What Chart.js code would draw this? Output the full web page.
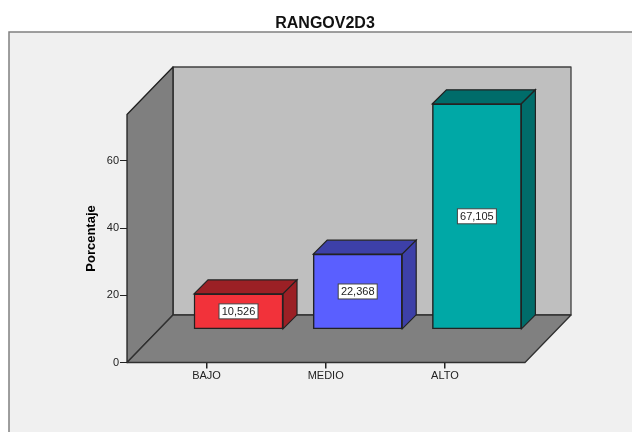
<!DOCTYPE html>
<html>
<head>
<meta charset="utf-8">
<title>RANGOV2D3</title>
<script src="https://cdn.jsdelivr.net/npm/chart.js@4"></script>
<style>
    body { margin: 0; background: #fff; }
    canvas { display: block; }
</style>
</head>
<body>
<canvas id="rangoChart" width="632" height="432"></canvas>
<script>
const categories = ['BAJO', 'MEDIO', 'ALTO'];
const porcentajes = [10.526, 22.368, 67.105];
const yTicks = [0, 20, 40, 60];

const frontColors = ['#f2323a', '#5a5fff', '#00a8a6'];
const darkColors = ['#9b2025', '#3d40a8', '#006c6a'];

// fake 3D depth, in pixels
const WALL_DX = 46, WALL_DY = 47.5;
const BAR_DX = 14, BAR_DY = 14;
const BAR_SHIFT_X = 32, BAR_SHIFT_Y = -33.2;

function poly(ctx, pts, fill, stroke, lw) {
    ctx.beginPath();
    pts.forEach((p, i) => i ? ctx.lineTo(p[0], p[1]) : ctx.moveTo(p[0], p[1]));
    ctx.closePath();
    ctx.fillStyle = fill;
    ctx.fill();
    ctx.strokeStyle = stroke;
    ctx.lineWidth = lw;
    ctx.stroke();
}

const fake3d = {
    id: 'fake3d',
    afterLayout(chart) {
        // title sits right of the page centre in the original
        chart.titleBlock.left = 0;
        chart.titleBlock.right = 650;
    },
    beforeDraw(chart) {
        const ctx = chart.ctx;
        const { left, right, top, bottom } = chart.chartArea;
        ctx.save();
        // outer frame, runs off the page on the right and bottom
        ctx.fillStyle = '#f0f0f0';
        ctx.fillRect(9, 32, 640, 420);
        ctx.strokeStyle = '#808080';
        ctx.lineWidth = 1.5;
        ctx.strokeRect(9, 32, 640, 420);
        // walls and floor
        ctx.lineJoin = 'round';
        poly(ctx, [[left + WALL_DX, top - WALL_DY], [right + WALL_DX, top - WALL_DY],
            [right + WALL_DX, bottom - WALL_DY], [left + WALL_DX, bottom - WALL_DY]], '#bfbfbf', '#404040', 1.3);
        poly(ctx, [[left, top], [left + WALL_DX, top - WALL_DY],
            [left + WALL_DX, bottom - WALL_DY], [left, bottom]], '#7f7f7f', '#202020', 1.3);
        poly(ctx, [[left, bottom], [left + WALL_DX, bottom - WALL_DY],
            [right + WALL_DX, bottom - WALL_DY], [right, bottom]], '#808080', '#303030', 1.3);
        ctx.restore();
    },
    beforeDatasetsDraw(chart) {
        const ctx = chart.ctx;
        ctx.save();
        ctx.translate(BAR_SHIFT_X, BAR_SHIFT_Y);
        chart.getDatasetMeta(0).data.forEach((bar, i) => {
            const l = bar.x - bar.width / 2, r = bar.x + bar.width / 2;
            poly(ctx, [[l, bar.y], [l + BAR_DX, bar.y - BAR_DY], [r + BAR_DX, bar.y - BAR_DY], [r, bar.y]],
                darkColors[i], '#222', 1.2);
            poly(ctx, [[r, bar.y], [r + BAR_DX, bar.y - BAR_DY], [r + BAR_DX, bar.base - BAR_DY], [r, bar.base]],
                darkColors[i], '#222', 1.2);
        });
    },
    afterDatasetsDraw(chart) {
        const ctx = chart.ctx;
        // value labels in white boxes on the bar fronts
        chart.getDatasetMeta(0).data.forEach((bar, i) => {
            const cx = bar.x, cy = (bar.y + bar.base) / 2;
            ctx.fillStyle = '#fff';
            ctx.fillRect(cx - 19.5, cy - 7.5, 39, 15);
            ctx.strokeStyle = '#444';
            ctx.lineWidth = 1;
            ctx.strokeRect(cx - 19.5, cy - 7.5, 39, 15);
            ctx.fillStyle = '#222';
            ctx.font = '11px "Liberation Sans"';
            ctx.textAlign = 'center';
            ctx.textBaseline = 'middle';
            ctx.fillText(porcentajes[i].toFixed(3).replace('.', ','), cx, cy + 0.5);
        });
        ctx.restore();
    }
};

document.addEventListener('DOMContentLoaded', function() {
    const ctx = document.getElementById('rangoChart').getContext('2d');
    new Chart(ctx, {
        type: 'bar',
        plugins: [fake3d],
        data: {
            datasets: [{
                data: porcentajes.map((v, i) => ({ x: i, y: v })),
                backgroundColor: frontColors,
                borderColor: '#222',
                borderWidth: 1.5,
                borderSkipped: false,
                barThickness: 89
            }]
        },
        options: {
            responsive: false,
            animation: false,
            devicePixelRatio: 1,
            layout: { padding: { right: 107 } },
            plugins: {
                legend: { display: false },
                tooltip: { enabled: false },
                title: {
                    display: true,
                    text: 'RANGOV2D3',
                    color: '#111',
                    font: { family: '"Liberation Sans"', size: 16, weight: 'bold' },
                    padding: { top: 14, bottom: 81.3 }
                }
            },
            scales: {
                x: {
                    type: 'linear',
                    min: -0.667,
                    max: 2.672,
                    offset: false,
                    bounds: 'data',
                    afterBuildTicks: scale => { scale.ticks = categories.map((c, i) => ({ value: i })); },
                    afterFit: scale => { scale.height = 69.5; },
                    grid: { drawOnChartArea: false, tickLength: 6, color: '#222', lineWidth: 1.5, offset: false },
                    border: { display: false },
                    ticks: {
                        callback: v => categories[v],
                        color: '#222',
                        padding: 1,
                        maxRotation: 0,
                        font: { family: '"Liberation Sans"', size: 11 }
                    }
                },
                y: {
                    min: 0,
                    max: 73.8,
                    afterBuildTicks: scale => { scale.ticks = yTicks.map(v => ({ value: v })); },
                    afterFit: scale => { scale.width = 127; },
                    grid: { drawOnChartArea: false, tickLength: 7, color: '#222' },
                    border: { display: false },
                    ticks: {
                        color: '#222',
                        padding: 1,
                        font: { family: '"Liberation Sans"', size: 11 }
                    },
                    title: {
                        display: true,
                        text: 'Porcentaje',
                        color: '#000',
                        font: { family: '"Liberation Sans"', size: 13, weight: 'bold' },
                        padding: { top: 84, bottom: 0 }
                    }
                }
            }
        }
    });
});
</script>
</body>
</html>
